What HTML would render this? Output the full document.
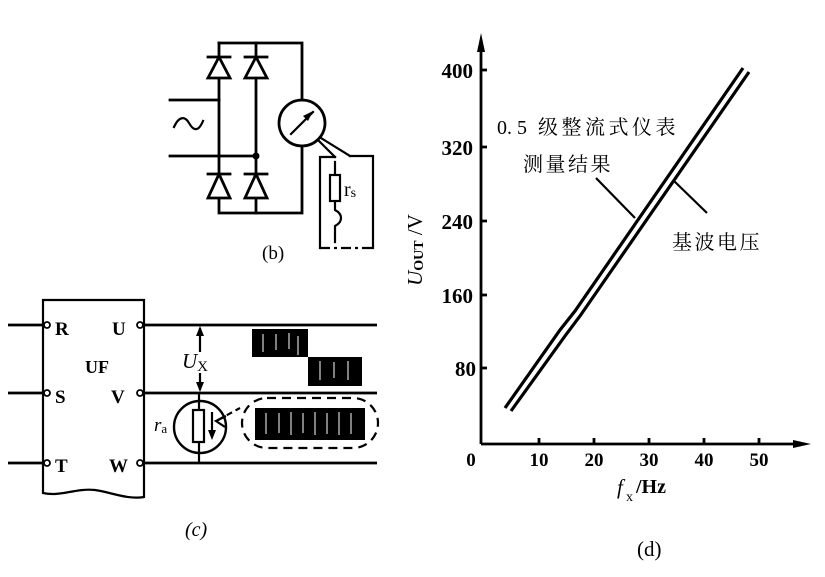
<!DOCTYPE html>
<html><head><meta charset="utf-8"><style>
html,body{margin:0;padding:0;background:#fff;}
svg{display:block;}
.s{font-family:"Liberation Serif","Noto Serif CJK SC",serif;}
.c{font-family:"Liberation Serif","Noto Serif CJK SC","Noto Sans CJK SC",serif;}
</style></head><body>
<svg width="825" height="577" viewBox="0 0 825 577" xmlns="http://www.w3.org/2000/svg">
<rect width="825" height="577" fill="#fff"/>
<g stroke="#000" stroke-width="2.8" fill="none" stroke-linecap="square">
<!-- (b) bridge -->
<path d="M219,43 H302 V100"/>
<path d="M302,146 V213 H219 V43"/>
<path d="M256,43 V213"/>
<path d="M170,100 H219"/>
<path d="M170,156 H256"/>
<circle cx="302" cy="123" r="23"/>
<!-- diodes -->
<path d="M208,57 H230 M219,57 L208,78 H230 Z" fill="#fff"/>
<path d="M245,57 H267 M256,57 L245,78 H267 Z" fill="#fff"/>
<path d="M208,174 H230 M219,174 L208,198 H230 Z" fill="#fff"/>
<path d="M245,174 H267 M256,174 L245,198 H267 Z" fill="#fff"/>
<path d="M174,127 C179,116 185,116 189,123 S198,133 203,121" stroke-width="2.2"/>
<!-- meter needle -->
<path d="M291,134 L313,112" stroke-width="2.2"/>
<!-- connection to box -->
<path d="M318,140 L335,157" stroke-width="2.2"/>
<path d="M321,138 L350,156" stroke-width="2.2"/>
<path d="M320,157 H335 M350,156 H373 V248 M320,157 V248" stroke-width="2.2"/>
<path d="M320,248 H373" stroke-width="2.2" stroke-dasharray="10 4 3 4" stroke-linecap="butt"/>
<path d="M335,162 V175 M335,201 V210 C343,214 343,222 335,226 V242" stroke-width="2.2"/>
<rect x="330" y="175" width="10" height="26" stroke-width="2.2" fill="#fff"/>
</g>
<path d="M313,111 L303,116 L308,121 Z" fill="#000"/>
<circle cx="256" cy="156" r="3.5" fill="#000"/>
<text x="344" y="196" class="s" font-size="20">r<tspan font-size="14" dy="1">s</tspan></text>
<text x="262" y="259" class="s" font-size="19">(b)</text>

<!-- (c) -->
<g stroke="#000" stroke-width="2.8" fill="none">
<path d="M43,300 H144 V497 C128,500 110,492 95,490 C75,488 60,497 43,493 Z" stroke-width="2.2"/>
<path d="M8,325 H44 M8,393 H44 M8,463 H44"/>
<path d="M143,325 H377 M143,393 H377 M143,463 H377"/>
<circle cx="200" cy="427" r="26" stroke-width="2.4"/>
<path d="M199,393 V410 M199,442 V463" stroke-width="2.2"/>
<rect x="193" y="410" width="11" height="32" stroke-width="2.2" fill="#fff"/>
<path d="M212,412 V436" stroke-width="2.2"/>
<path d="M200,328 V352 M200,373 V390" stroke-width="2.2"/>
<rect x="242" y="398" width="136" height="50" rx="25" stroke-width="2.2" stroke-dasharray="9 6"/>
<path d="M218,420 L240,408" stroke-width="2.2" stroke-dasharray="6 4"/>
<path d="M226,416 L216,421 L225,427" stroke-width="2.2"/>
</g>
<g fill="#fff" stroke="#000" stroke-width="1.8">
<circle cx="47" cy="325" r="3"/><circle cx="47" cy="393" r="3"/><circle cx="47" cy="463" r="3"/>
<circle cx="140" cy="325" r="3"/><circle cx="140" cy="393" r="3"/><circle cx="140" cy="463" r="3"/>
</g>
<path d="M200,326 L196,336 L204,336 Z M200,392 L196,382 L204,382 Z M212,440 L208,430 L216,430 Z" fill="#000"/>
<!-- PWM blocks -->
<g fill="#000">
<rect x="252" y="329" width="56" height="28"/>
<rect x="308" y="357" width="54" height="29"/>
<rect x="255" y="408" width="110" height="32"/>
</g>
<g stroke="#fff" stroke-width="1">
<path d="M263,334 V352 M276,334 V350 M289,333 V349 M298,336 V355"/>
<path d="M320,361 V380 M334,362 V378 M348,361 V380"/>
<path d="M266,413 V434 M279,413 V433 M291,412 V435 M303,413 V433 M315,412 V435 M327,413 V434 M339,412 V435 M351,413 V434"/>
</g>
<g class="s" font-size="19" font-weight="bold">
<text x="55" y="335">R</text>
<text x="55" y="403">S</text>
<text x="55" y="472">T</text>
<text x="112" y="335">U</text>
<text x="111" y="403">V</text>
<text x="109" y="472">W</text>
<text x="85" y="373" font-size="18">UF</text>
</g>
<text x="182" y="368" class="s" font-size="21" font-style="italic">U<tspan font-size="15" font-style="normal" dy="3">X</tspan></text>
<text x="154" y="431" class="s" font-size="19" font-style="italic">r<tspan font-size="13" font-style="normal" dy="2">a</tspan></text>
<text x="185" y="536" class="s" font-size="20" font-style="italic">(c)</text>

<!-- (d) graph -->
<g stroke="#000" fill="none">
<path d="M481,444 V44" stroke-width="2.8"/>
<path d="M481,444 H800" stroke-width="2.8"/>
<path d="M481,70 H487 M481,147 H487 M481,221 H487 M481,295 H487 M481,368 H487" stroke-width="2.8"/>
<path d="M539,444 V438 M594,444 V438 M649,444 V438 M704,444 V438 M759,444 V438" stroke-width="2.8"/>
<path d="M505,408 L560,330 L575,311 L743,68" stroke-width="3.2"/>
<path d="M511,411 L565,336 L580,316 L749,72" stroke-width="3.2"/>
<path d="M596,178 L635,218" stroke-width="2.2"/>
<path d="M673,180 L707,213" stroke-width="2.2"/>
</g>
<path d="M481,33 L477,52 L485,52 Z" fill="#000"/>
<path d="M811,444 L793,440 L793,448 Z" fill="#000"/>
<g class="s" font-size="21" font-weight="bold" text-anchor="end">
<text x="473" y="78">400</text>
<text x="473" y="155">320</text>
<text x="473" y="229">240</text>
<text x="473" y="303">160</text>
<text x="476" y="376">80</text>
</g>
<g class="s" font-size="19" font-weight="bold" text-anchor="middle">
<text x="471" y="466">0</text>
<text x="539" y="466">10</text>
<text x="594" y="466">20</text>
<text x="649" y="466">30</text>
<text x="704" y="466">40</text>
<text x="759" y="466">50</text>
</g>
<text x="617" y="494" class="s" font-size="21" font-style="italic">f</text>
<text x="626" y="501" class="s" font-size="14">x</text>
<text x="636" y="493" class="s" font-size="20" font-weight="bold">/Hz</text>
<text x="637" y="556" class="s" font-size="21">(d)</text>
<text transform="translate(422,250) rotate(-90)" text-anchor="middle" class="s" font-size="21"><tspan font-style="italic">U</tspan><tspan font-size="14" font-weight="bold" dy="1">OUT</tspan><tspan dy="-1"> /V</tspan></text>
<text x="497" y="134" class="c" font-size="20">0. 5</text>
<text x="538" y="134" class="c" font-size="20" letter-spacing="3.5">级整流式仪表</text>
<text x="523" y="171" class="c" font-size="20" letter-spacing="2.5">测量结果</text>
<text x="672" y="249" class="c" font-size="20" letter-spacing="2.5">基波电压</text>
</svg>
</body></html>
